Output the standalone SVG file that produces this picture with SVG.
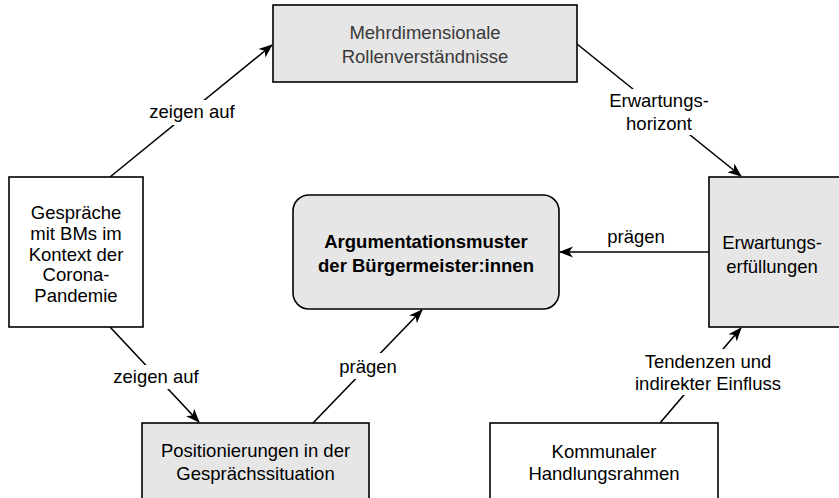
<svg xmlns="http://www.w3.org/2000/svg" width="839" height="498" viewBox="0 0 839 498">
<style>
  .box { stroke: #000; stroke-width: 1.6; }
  .gray { fill: #e6e6e6; }
  .white { fill: #ffffff; }
  text { font-family: "Liberation Sans", Arial, sans-serif; font-size: 18.5px; fill: #000; text-anchor: middle; }
  .dim { fill: #3a3a3a; }
  .bold { font-weight: bold; }
  .conn { stroke: #000; stroke-width: 1.6; fill: none; }
  .lblbg { fill: #ffffff; }
</style>
<defs>
  <marker id="arr" markerUnits="userSpaceOnUse" markerWidth="15" markerHeight="12" refX="13" refY="5.5" orient="auto" viewBox="0 0 15 11">
    <path d="M0,0 L14,5.5 L0,11 L3.8,5.5 Z" fill="#000"/>
  </marker>
</defs>

<g id="connectors">
  <line class="conn" x1="110" y1="177" x2="272" y2="45" marker-end="url(#arr)"/>
  <line class="conn" x1="577" y1="44" x2="741" y2="176" marker-end="url(#arr)"/>
  <line class="conn" x1="709" y1="252" x2="560" y2="252" marker-end="url(#arr)"/>
  <line class="conn" x1="660" y1="423" x2="741" y2="328" marker-end="url(#arr)"/>
  <line class="conn" x1="110" y1="327" x2="199" y2="422" marker-end="url(#arr)"/>
  <line class="conn" x1="313" y1="423" x2="422" y2="310" marker-end="url(#arr)"/>
  <rect class="lblbg" x="146" y="100" width="92" height="25"/>
  <rect class="lblbg" x="607" y="89" width="104" height="46"/>
  <rect class="lblbg" x="600" y="229" width="72" height="21"/>
  <rect class="lblbg" x="637" y="349" width="143" height="46"/>
  <rect class="lblbg" x="110" y="365" width="92" height="24"/>
  <rect class="lblbg" x="338" y="353" width="62" height="26"/>
  <text x="192" y="118">zeigen auf</text>
  <text x="659" y="107">Erwartungs-</text>
  <text x="659" y="130">horizont</text>
  <text x="636" y="243">prägen</text>
  <text x="708" y="368">Tendenzen und</text>
  <text x="708" y="390">indirekter Einfluss</text>
  <text x="156" y="383">zeigen auf</text>
  <text x="368" y="373">prägen</text>
</g>

<g id="node-rollen">
  <rect class="box gray" x="273" y="5" width="304" height="77"/>
  <text class="dim" x="425" y="39">Mehrdimensionale</text>
  <text class="dim" x="425" y="63">Rollenverständnisse</text>
</g>

<g id="node-gespraeche">
  <rect class="box white" x="9" y="177" width="134" height="150"/>
  <text x="76" y="219">Gespräche</text>
  <text x="76" y="240">mit BMs im</text>
  <text x="76" y="261">Kontext der</text>
  <text x="76" y="281">Corona-</text>
  <text x="76" y="302">Pandemie</text>
</g>

<g id="node-argumentation">
  <rect class="box gray" x="293" y="195" width="266" height="114" rx="16" ry="16"/>
  <text class="bold" x="426" y="248">Argumentationsmuster</text>
  <text class="bold" x="426" y="272">der Bürgermeister:innen</text>
</g>

<g id="node-erwartung">
  <rect class="box gray" x="709" y="177" width="140" height="150"/>
  <text x="772" y="249">Erwartungs-</text>
  <text x="772" y="273">erfüllungen</text>
</g>

<g id="node-positionierung">
  <rect class="box gray" x="142" y="423" width="227" height="85"/>
  <text x="255.5" y="457">Positionierungen in der</text>
  <text x="255.5" y="480">Gesprächssituation</text>
</g>

<g id="node-kommunal">
  <rect class="box white" x="490" y="423" width="228" height="85"/>
  <text x="604" y="458">Kommunaler</text>
  <text x="604" y="480">Handlungsrahmen</text>
</g>
</svg>
